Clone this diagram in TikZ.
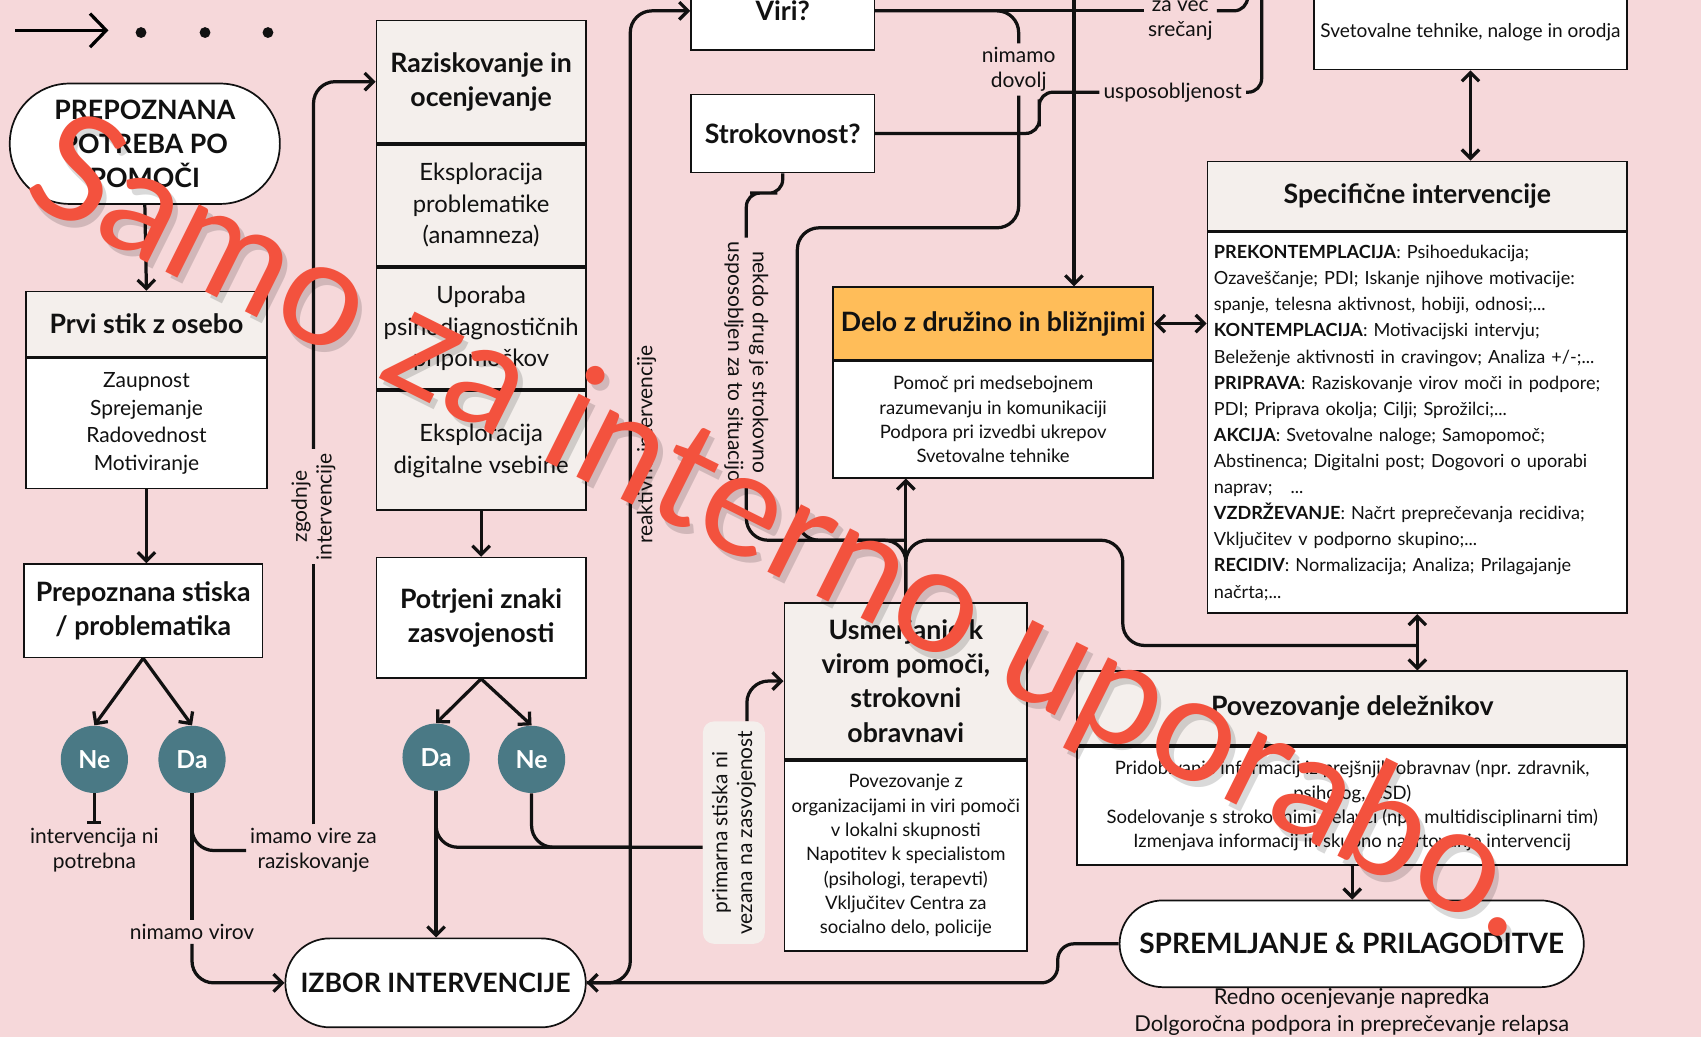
\documentclass[tikz,border=0pt]{standalone}
\usepackage{fontspec}
\setmainfont{Lato}
\usetikzlibrary{positioning,arrows.meta}
\definecolor{pagepink}{RGB}{246,216,218}
\definecolor{boxcream}{RGB}{244,239,236}
\definecolor{famorange}{RGB}{255,189,89}
\definecolor{answerteal}{RGB}{74,121,133}
\definecolor{inkblack}{RGB}{17,17,17}
\definecolor{stampred}{RGB}{243,82,62}
\newcommand{\hdfont}{\fontsize{14}{18}\selectfont\bfseries}
\newcommand{\txfont}{\fontsize{9.7}{12.8}\selectfont}
\newcommand{\lbfont}{\fontsize{11}{13}\selectfont}
\newcommand{\spfont}{\fontsize{9.5}{13.7}\selectfont}
\newcommand{\prvifont}{\fontsize{11}{14.5}\selectfont}
\newcommand{\razfont}{\fontsize{12.5}{16.5}\selectfont}
\newcommand{\ansfont}{\fontsize{13}{15}\selectfont\bfseries}
\newcommand{\stampfont}{\fontsize{78}{78}\selectfont}

\begin{document}
\begin{tikzpicture}[x=0.02cm,y=-0.02cm, every node/.style={font=\txfont, text=inkblack},
  headbox/.style={draw=inkblack, line width=0.9pt, fill=boxcream, align=center, font=\hdfont, inner sep=2pt},
  textbox/.style={draw=inkblack, line width=0.9pt, fill=white, align=center, inner sep=2pt},
  pillbox/.style={draw=inkblack, line width=0.9pt, fill=white, align=center, font=\hdfont, inner sep=2pt},
  answer/.style={circle, fill=answerteal, minimum size=1.24cm, inner sep=0pt, text=white, font=\ansfont},
  lbl/.style={font=\lbfont, align=center, inner sep=2pt},
  conn/.style={line width=1.7pt, draw=inkblack, rounded corners=0.4cm},
  arr/.style={-{Straight Barb[length=1.6mm,width=3.2mm]}},
  dbl/.style={{Straight Barb[length=1.6mm,width=3.2mm]}-{Straight Barb[length=1.6mm,width=3.2mm]}}]
  \fill[pagepink] (0,0) rectangle (1568,956);
  \useasboundingbox (0,0) rectangle (1568,956);

  % start marker
  \coordinate (dec0) at (14,28);
  \coordinate (dec1) at (100,28);
  \draw[line width=1.7pt, -{Straight Barb[length=3mm,width=6.2mm]}] (dec0) -- (dec1);
  \foreach \dx in {130,189,247}
    \fill[inkblack] (\dx,30) circle (0.1cm);

  % left column
  \node[pillbox, rounded corners=1.1cm, minimum width=4.98cm, minimum height=2.22cm] (potreba) at (133.5,132.5) {PREPOZNANA\\POTREBA PO\\POMOČI};
  \node[headbox, anchor=north, minimum width=4.44cm, minimum height=1.2cm] (prvi) at (135,268) {Prvi stik z osebo};
  \node[textbox, below=0pt of prvi, minimum width=4.44cm, minimum height=2.4cm, font=\prvifont] (prvib) {Zaupnost\\Sprejemanje\\Radovednost\\Motiviranje};
  \node[textbox, font=\hdfont, minimum width=4.4cm, minimum height=1.72cm] (stiska) at (132,563) {Prepoznana stiska\\/ problematika};
  \node[answer] (ne1) at (87,700) {Ne};
  \node[answer] (da1) at (177,700) {Da};
  \node[lbl] (nipotr) at (87,784) {intervencija ni\\potrebna};
  \node[lbl] (imamo) at (289,784) {imamo vire za\\raziskovanje};
  \node[lbl] (nvir) at (177,859) {nimamo virov};
  \node[lbl, rotate=90] (zgodnje) at (289,467) {zgodnje\\intervencije};
  \node[pillbox, rounded corners=0.82cm, minimum width=5.54cm, minimum height=1.64cm] (izbor) at (401.5,906) {IZBOR INTERVENCIJE};

  % middle column
  \node[headbox, anchor=north, minimum width=3.86cm, minimum height=2.26cm] (raz) at (443.5,18) {Raziskovanje in\\ocenjevanje};
  \node[headbox, below=0pt of raz, minimum width=3.86cm, minimum height=2.24cm, font=\razfont] (raz1) {Eksploracija\\problematike\\(anamneza)};
  \node[headbox, below=0pt of raz1, minimum width=3.86cm, minimum height=2.24cm, font=\razfont] (raz2) {Uporaba\\psihodiagnostičnih\\pripomočkov};
  \node[headbox, below=0pt of raz2, minimum width=3.86cm, minimum height=2.2cm, font=\razfont] (raz3) {Eksploracija\\digitalne vsebine};
  \node[textbox, font=\hdfont, minimum width=3.86cm, minimum height=2.22cm] (potrjeni) at (443.5,569.5) {Potrjeni znaki\\zasvojenosti};
  \node[answer] (da2) at (402,698) {Da};
  \node[answer] (ne2) at (490,700) {Ne};
  \node[lbl, rotate=90] (reak) at (596,410) {reaktivne intervencije};

  % questions
  \node[textbox, font=\hdfont, minimum width=3.38cm, minimum height=1.44cm] (viri) at (721.5,10) {Viri?};
  \node[textbox, font=\hdfont, minimum width=3.38cm, minimum height=1.44cm] (strok) at (721.5,123) {Strokovnost?};
  \node[lbl, rotate=-90] (nekdo) at (688,334) {nekdo drug je strokovno\\usposobljen za to situacijo};
  \node[lbl] (nimamo) at (939,64) {nimamo\\dovolj};
  \node[lbl] (zavec) at (1088,17) {za več\\srečanj};
  \node[lbl] (usp) at (1081,85) {usposobljenost};
  \node[lbl, rotate=90, fill=boxcream, rounded corners=0.2cm, minimum width=4.1cm, minimum height=1.14cm] (prim) at (676.5,767.5) {primarna stiska ni\\vezana na zasvojenost};

  % interventions
  \node[headbox, fill=famorange, anchor=north, minimum width=5.9cm, minimum height=1.34cm] (delo) at (915.5,264) {Delo z družino in bližnjimi};
  \node[textbox, below=0pt of delo, minimum width=5.9cm, minimum height=2.14cm] (delob) {Pomoč pri medsebojnem\\razumevanju in komunikaciji\\Podpora pri izvedbi ukrepov\\Svetovalne tehnike};
  \node[headbox, anchor=north, minimum width=4.48cm, minimum height=2.88cm] (usm) at (835,555) {Usmerjanje k\\virom pomoči,\\strokovni\\obravnavi};
  \node[textbox, below=0pt of usm, minimum width=4.48cm, minimum height=3.5cm] (usmb) {Povezovanje z\\organizacijami in viri pomoči\\v lokalni skupnosti\\Napotitev k specialistom\\(psihologi, terapevti)\\Vključitev Centra za\\socialno delo, policije};
  \node[textbox, font=\fontsize{10}{12}\selectfont, minimum width=5.78cm, minimum height=1.36cm] (svet) at (1355.5,30) {Svetovalne tehnike, naloge in orodja};
  \node[headbox, anchor=north, minimum width=7.74cm, minimum height=1.28cm] (spec) at (1306.5,148) {Specifične intervencije};
  \node[textbox, below=0pt of spec, minimum width=7.74cm, minimum height=7.02cm, align=left, text width=7.5cm, font=\spfont] (specb) {\textbf{PREKONTEMPLACIJA}: Psihoedukacija;\\Ozaveščanje; PDI; Iskanje njihove motivacije:\\spanje, telesna aktivnost, hobiji, odnosi;...\\\textbf{KONTEMPLACIJA}: Motivacijski intervju;\\Beleženje aktivnosti in cravingov; Analiza +/-;...\\\textbf{PRIPRAVA}: Raziskovanje virov moči in podpore;\\PDI; Priprava okolja; Cilji; Sprožilci;...\\\textbf{AKCIJA}: Svetovalne naloge; Samopomoč;\\Abstinenca; Digitalni post; Dogovori o uporabi\\naprav;\ \ \ ...\\\textbf{VZDRŽEVANJE}: Načrt preprečevanja recidiva;\\Vključitev v podporno skupino;...\\\textbf{RECIDIV}: Normalizacija; Analiza; Prilagajanje\\načrta;...};
  \node[headbox, anchor=north, minimum width=10.14cm, minimum height=1.36cm] (pov) at (1246.5,618) {Povezovanje deležnikov};
  \node[textbox, below=0pt of pov, minimum width=10.14cm, minimum height=2.18cm] (povb) {Pridobivanje informacij iz prejšnjih obravnav (npr. zdravnik,\\psiholog, CSD)\\Sodelovanje s strokovnimi delavci (npr. multidisciplinarni tim)\\Izmenjava informacij in skupno načrtovanje intervencij};
  \node[pillbox, font=\fontsize{14.7}{18}\selectfont\bfseries, rounded corners=0.8cm, minimum width=8.56cm, minimum height=1.6cm] (sprem) at (1246,870) {SPREMLJANJE \& PRILAGODITVE};
  \node[lbl, font=\fontsize{11.5}{14.2}\selectfont] (spremtxt) at (1246,933) {Redno ocenjevanje napredka\\Dolgoročna podpora in preprečevanje relapsa};

  % left connectors
  \draw[conn, arr] (potreba.south) -- (prvi.north);
  \draw[conn, arr] (prvib.south) -- (prvib.south |- stiska.north);
  \draw[conn, arr] (stiska.south) -- (ne1.north);
  \draw[conn, arr] (stiska.south) -- (da1.north);
  \draw[conn, -{Bar[width=2.6mm]}] (ne1.south) -- (ne1.south |- nipotr.north);
  \draw[conn] (da1.south) -- (nvir.north);
  \draw[conn, arr] (nvir.south) |- (izbor.west);
  \coordinate (dabr) at (177,752);
  \draw[conn] (dabr) |- (imamo.west);
  \draw[conn] (imamo.north) -- (zgodnje.west);
  \draw[conn, arr] (zgodnje.east) |- (raz.west);

  % middle connectors
  \draw[conn, arr] (raz3.south) -- (potrjeni.north);
  \draw[conn, arr] (potrjeni.south) -- (da2.north);
  \draw[conn, arr] (potrjeni.south) -- (ne2.north);
  \draw[conn, arr] (da2.south) -- (da2.south |- izbor.north);
  \coordinate (dabr2) at (402,748);
  \coordinate (primin) at (581,781);
  \draw[conn] (dabr2) |- (prim.north |- primin);
  \draw[conn] (ne2.south) |- (primin);
  \draw[conn, arr] ([xshift=0.24cm]prim.east) |- (usm.west);
  \coordinate (reakx) at (581,480);
  \draw[conn, arr] (izbor.east) -| (reakx) |- (viri.west);
  \coordinate (spbend) at (975,906);
  \draw[conn, arr, rounded corners=0.3cm] (sprem.west) -| (spbend) -- (izbor.east);

  % question connectors
  \draw[conn] (viri.east) -- (viri.east -| zavec.west);
  \coordinate (topza) at (1150,-20);
  \draw[conn, rounded corners=0.25cm] (zavec.east |- viri.east) -| (topza);
  \draw[conn] (viri.east) -| (nimamo.north);
  \coordinate (lpa) at (735,210);
  \coordinate (lpb) at (735,498);
  \coordinate (mrg) at (835,498);
  \draw[conn] (nimamo.south) |- (lpa) -- (lpb) -- (mrg) -- (usm.north);
  \coordinate (stup) at (958,104);
  \draw[conn, rounded corners=0.25cm] (strok.east) -| (stup) |- (usp.west);
  \coordinate (topusp) at (1163,-20);
  \draw[conn, rounded corners=0.25cm] (usp.east) -| (topusp);
  \coordinate (stdn) at (704,178);
  \draw[conn, rounded corners=0.25cm] (strok.south) |- (stdn) -| (nekdo.west);
  \draw[conn] (nekdo.east) |- (mrg);
  \coordinate (rsp) at (1306,595);
  \coordinate (rbnd) at (1035,595);
  \draw[conn] (rsp) -- (rbnd) |- (mrg) -- (usm.north);

  % intervention connectors
  \draw[conn, arr] (usm.north) -- (usm.north |- delob.south);
  \coordinate (topdelo) at (990,-20);
  \draw[conn, arr] (topdelo) -- (topdelo |- delo.north);
  \draw[conn, dbl] (delo.east) -- (delo.east -| specb.west);
  \draw[conn, dbl] (svet.south) -- (svet.south |- spec.north);
  \draw[conn, dbl] (specb.south) -- (specb.south |- pov.north);
  \draw[conn, arr] (povb.south) -- (povb.south |- sprem.north);

  % stamp
  \node[rotate=-26.5, text=black, text opacity=0.15, font=\stampfont] (stampsh) at (726,497) {Samo za interno uporabo.};
  \node[rotate=-26.5, text=stampred, font=\stampfont] (stamp) at (722,491) {Samo za interno uporabo.};
\end{tikzpicture}
\end{document}
